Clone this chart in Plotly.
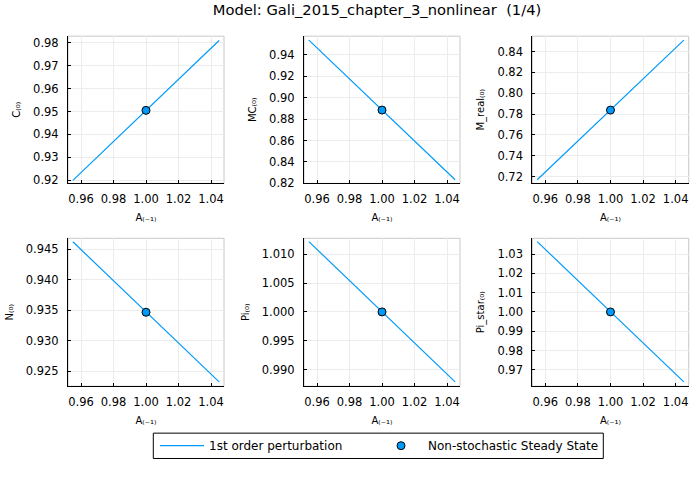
import plotly.graph_objects as go
from plotly.subplots import make_subplots

title = "Model: Gali_2015_chapter_3_nonlinear  (1/4)"
xlabel = "A₍₋₁₎"
var_names = ["C₍₀₎", "MC₍₀₎", "M_real₍₀₎", "N₍₀₎", "Pi₍₀₎", "Pi_star₍₀₎"]

a_grid = [0.955, 1.0, 1.045]
C_vals = [0.9199, 0.9505, 0.9810]
MC_vals = [0.9538, 0.8885, 0.8234]
M_real_vals = [0.7169, 0.7838, 0.8510]
N_vals = [0.9462, 0.93468, 0.9233]
Pi_vals = [1.01216, 1.0000, 0.9879]
Pi_star_vals = [1.0365, 1.0000, 0.9637]
series = [C_vals, MC_vals, M_real_vals, N_vals, Pi_vals, Pi_star_vals]
ss_x = 1.0
ss_vals = [0.9505, 0.8885, 0.7838, 0.93468, 1.0000, 1.0000]

y_ranges = [[0.9186, 0.9829], [0.820, 0.9575], [0.7134, 0.8548],
            [0.92258, 0.94677], [0.98715, 1.01273], [0.96146, 1.0382]]
y_dticks = [0.01, 0.02, 0.02, 0.005, 0.005, 0.01]
y_formats = [".2f", ".2f", ".2f", ".3f", ".3f", ".2f"]
x_range = [0.952, 1.048]

BLUE = "#009AFA"
FONT = "DejaVu Sans"

W, H = 700, 500


def px(sx):
    return sx / W


def py(sy):
    return 1 - sy / H


fig = make_subplots(rows=2, cols=3)
xdoms = [[px(68), px(224)], [px(304), px(460)], [px(532.3), px(688.7)]]
ydoms = [[py(186), py(36.7)], [py(391.7), py(241.7)]]

for i in range(6):
    r, c = i // 3 + 1, i % 3 + 1
    fig.add_trace(go.Scatter(x=a_grid, y=series[i], mode="lines",
                             line=dict(color=BLUE, width=1.2),
                             name="1st order perturbation", showlegend=(i == 0),
                             legend="legend"),
                  row=r, col=c)
    fig.add_trace(go.Scatter(x=[ss_x], y=[ss_vals[i]], mode="markers",
                             marker=dict(color=BLUE, size=8, line=dict(color="black", width=1)),
                             name="Non-stochastic Steady State", showlegend=(i == 0),
                             legend="legend2"),
                  row=r, col=c)
    ax = "" if i == 0 else str(i + 1)
    fig.layout["xaxis" + ax].update(
        domain=xdoms[c-1], range=x_range, dtick=0.02, tick0=0.96, tickformat=".2f",
        showline=True, linecolor="black", linewidth=1, ticks="inside", ticklen=3,
        tickcolor="black", showgrid=True, gridcolor="#ececec", gridwidth=0.8,
        zeroline=False, tickfont=dict(size=11.5, color="black"), ticklabelstandoff=5,
        title=dict(text=xlabel, font=dict(size=10, color="black"), standoff=8))
    fig.layout["yaxis" + ax].update(
        domain=ydoms[r-1], range=y_ranges[i], dtick=y_dticks[i], tick0=0,
        tickformat=y_formats[i],
        showline=True, linecolor="black", linewidth=1, ticks="inside", ticklen=3,
        tickcolor="black", showgrid=True, gridcolor="#ececec", gridwidth=0.8,
        zeroline=False, tickfont=dict(size=11.5, color="black"), ticklabelstandoff=6,
        title=dict(text=var_names[i], font=dict(size=10, color="black"), standoff=10))
    fig.add_shape(type="rect", xref="x" + ax + " domain", yref="y" + ax + " domain",
                  x0=0, x1=1, y0=0, y1=1, line=dict(color="#c8c8c8", width=1),
                  layer="below")

# legend frame
fig.add_shape(type="rect", xref="paper", yref="paper",
              x0=px(153.3), x1=px(603.3), y0=py(465), y1=py(439.3),
              line=dict(color="black", width=1), fillcolor="white", layer="below")

leg_common = dict(orientation="h", xanchor="left", y=py(452), yanchor="middle",
                  borderwidth=0, bgcolor="rgba(0,0,0,0)",
                  font=dict(size=12, color="black"), itemwidth=44)

fig.update_layout(
    width=W, height=H, margin=dict(l=0, r=0, t=0, b=0),
    paper_bgcolor="white", plot_bgcolor="white",
    font=dict(family=FONT, color="black"),
    title=dict(text=title, x=px(377), xanchor="center", y=py(10), yanchor="middle",
               font=dict(size=14.7, color="black")),
    legend=dict(x=px(155), **leg_common),
    legend2=dict(x=px(374), **leg_common),
)

fig.write_html("out.html", config={"displayModeBar": False},
               post_script="document.body.style.margin='0px';"
                           "document.body.style.overflow='hidden';")
